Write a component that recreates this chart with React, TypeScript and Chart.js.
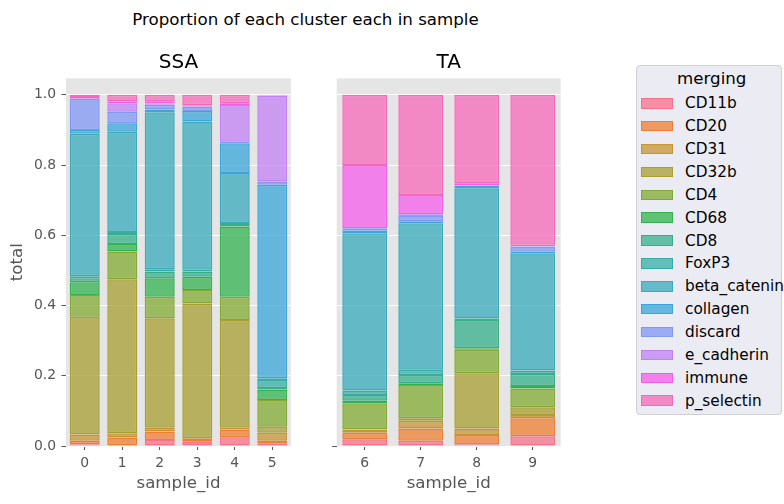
import React, { useEffect, useRef } from 'react';
import { Chart, registerables } from 'chart.js';

Chart.register(...registerables);

// ---- data -------------------------------------------------------------
const clusters = [
  'CD11b', 'CD20', 'CD31', 'CD32b', 'CD4', 'CD68', 'CD8', 'FoxP3',
  'beta_catenin', 'collagen', 'discard', 'e_cadherin', 'immune', 'p_selectin',
];
const ssaSamples = ['0', '1', '2', '3', '4', '5'];
const taSamples = ['6', '7', '8', '9'];
const yTicks = [0, 0.2, 0.4, 0.6, 0.8, 1.0];

// proportion of each cluster per sample (samples 0..9)
const CD11b = [0.005, 0.003, 0.017, 0.012, 0.025, 0.008, 0.019, 0.015, 0.005, 0.028];
const CD20 = [0.010, 0.021, 0.024, 0.008, 0.022, 0.007, 0.019, 0.035, 0.026, 0.051];
const CD31 = [0.018, 0.012, 0.011, 0.002, 0.005, 0.023, 0.008, 0.022, 0.019, 0.009];
const CD32b = [0.335, 0.439, 0.312, 0.384, 0.307, 0.017, 0.002, 0.007, 0.157, 0.022];
const CD4 = [0.062, 0.079, 0.061, 0.038, 0.066, 0.076, 0.074, 0.095, 0.067, 0.054];
const CD68 = [0.036, 0.021, 0.053, 0.038, 0.200, 0.030, 0.007, 0.005, 0.004, 0.007];
const CD8 = [0.012, 0.029, 0.019, 0.015, 0.007, 0.004, 0.016, 0.023, 0.081, 0.034];
const FoxP3 = [0.005, 0.005, 0.006, 0.005, 0.003, 0.023, 0.013, 0.015, 0.004, 0.010];
const betaCatenin = [0.406, 0.286, 0.447, 0.422, 0.142, 0.005, 0.448, 0.417, 0.371, 0.334];
const collagen = [0.011, 0.024, 0.008, 0.030, 0.085, 0.551, 0.007, 0.006, 0.006, 0.004];
const discard = [0.088, 0.033, 0.014, 0.013, 0.004, 0.009, 0.007, 0.015, 0.002, 0.015];
const eCadherin = [0.002, 0.024, 0.003, 0.001, 0.105, 0.244, 0.001, 0.005, 0.001, 0.001];
const immune = [0.004, 0.005, 0.007, 0.002, 0.005, 0.002, 0.179, 0.055, 0.005, 0.004];
const pSelectin = [0.006, 0.019, 0.018, 0.030, 0.024, 0.001, 0.200, 0.285, 0.252, 0.427];

const clusterValues = [
  CD11b, CD20, CD31, CD32b, CD4, CD68, CD8, FoxP3,
  betaCatenin, collagen, discard, eCadherin, immune, pSelectin,
];

// ---- husl palette (same maths as seaborn's husl_palette) ---------------
const M = [
  [3.2406, -1.5372, -0.4986],
  [-0.9689, 1.8758, 0.0415],
  [0.0557, -0.204, 1.057],
];
const REF_U = 0.19784;
const REF_V = 0.46834;
const KAPPA = 903.2963;
const EPS = 0.0088564;

function maxChroma(L: number, H: number): number {
  const hrad = (H / 180) * Math.PI;
  const sinH = Math.sin(hrad);
  const cosH = Math.cos(hrad);
  const sub1 = Math.pow(L + 16, 3) / 1560896;
  const sub2 = sub1 > EPS ? sub1 : L / KAPPA;
  let result = Infinity;
  for (const [m1, m2, m3] of M) {
    const top = (0.99915 * m1 + 1.05122 * m2 + 1.1446 * m3) * sub2;
    const rbottom = 0.8633 * m3 - 0.17266 * m2;
    const lbottom = 0.12949 * m3 - 0.38848 * m1;
    const bottom = (rbottom * sinH + lbottom * cosH) * sub2;
    for (const t of [0, 1]) {
      const C = (L * (top - 1.05122 * t)) / (bottom + 0.17266 * sinH * t);
      if (C > 0 && C < result) result = C;
    }
  }
  return result;
}

function huslToRgb(H: number, S: number, L: number): number[] {
  const C = (maxChroma(L, H) / 100) * S;
  const hrad = (H / 180) * Math.PI;
  const U = C * Math.cos(hrad);
  const V = C * Math.sin(hrad);
  const Y = L > 8 ? Math.pow((L + 16) / 116, 3) : L / KAPPA;
  const varU = U / (13 * L) + REF_U;
  const varV = V / (13 * L) + REF_V;
  const X = -(9 * Y * varU) / ((varU - 4) * varV - varU * varV);
  const Z = (9 * Y - 15 * varV * Y - varV * X) / (3 * varV);
  return M.map(([a, b, c]) => {
    const lin = a * X + b * Y + c * Z;
    const s = lin <= 0.0031308 ? 12.92 * lin : 1.055 * Math.pow(lin, 1 / 2.4) - 0.055;
    return Math.round(Math.min(1, Math.max(0, s)) * 255);
  });
}

function huslPalette(n: number): number[][] {
  const out: number[][] = [];
  for (let i = 0; i < n; i++) {
    const h = ((i / n + 0.01) % 1) * 359;
    out.push(huslToRgb(h, 0.9 * 99, 0.65 * 99));
  }
  return out;
}

const palette = huslPalette(clusters.length);
const rgba = (c: number[], a: number) => `rgba(${c[0]},${c[1]},${c[2]},${a})`;

// ---- styling ----------------------------------------------------------
const FONT = "'DejaVu Sans', sans-serif";
const PANEL_BG = '#e5e5e5';
const AXIS_GRAY = '#555555';
const TICK_SIZE = 13.9;
const LABEL_SIZE = 16.67;
const Y_MAX = 1.047;
const FILL_ALPHA = 0.75;
const EDGE_WIDTH = 1.5;

Chart.defaults.font.family = FONT;

const panelBackground = {
  id: 'panelBackground',
  beforeDraw(chart: any) {
    const { ctx, chartArea: a } = chart;
    ctx.save();
    ctx.fillStyle = PANEL_BG;
    ctx.fillRect(a.left, a.top, a.right - a.left, a.bottom - a.top);
    ctx.restore();
  },
};

function makeDatasets(from: number, to: number) {
  return clusters.map((name, i) => ({
    label: name,
    data: clusterValues[i].slice(from, to),
    backgroundColor: rgba(palette[i], FILL_ALPHA),
    borderColor: rgba(palette[i], 1),
    borderWidth: EDGE_WIDTH,
    borderSkipped: false as const,
    barPercentage: 0.8,
    categoryPercentage: 1,
  }));
}

function panelTitle(text: string) {
  return {
    display: true,
    text,
    fullSize: false,
    color: '#000',
    font: { size: 20, weight: 'normal' as const, family: FONT },
    padding: { top: 10.5, bottom: 3.8 },
  };
}

function xScale() {
  return {
    stacked: true,
    grid: {
      display: true,
      drawOnChartArea: false,
      offset: false,
      tickLength: 4,
      tickColor: AXIS_GRAY,
    },
    border: { display: false },
    ticks: { color: AXIS_GRAY, font: { size: TICK_SIZE }, padding: 4.6 },
    title: {
      display: true,
      text: 'sample_id',
      color: AXIS_GRAY,
      font: { size: LABEL_SIZE },
      padding: { top: 0, bottom: 10 },
    },
    afterFit: (s: any) => {
      s.height = 58;
    },
  };
}

function yScale(showLabels: boolean) {
  return {
    stacked: true,
    min: 0,
    max: Y_MAX,
    afterBuildTicks: (s: any) => {
      s.ticks = yTicks.map((v) => ({ value: v }));
    },
    ticks: {
      display: showLabels,
      color: AXIS_GRAY,
      font: { size: TICK_SIZE },
      padding: 5.5,
      callback: (v: any) => Number(v).toFixed(1),
    },
    grid: {
      color: '#ffffff',
      lineWidth: 1,
      tickLength: 4.5,
      tickColor: showLabels
        ? AXIS_GRAY
        : (ctx: any) => (ctx.tick && ctx.tick.value === 0 ? AXIS_GRAY : 'rgba(0,0,0,0)'),
    },
    border: { display: false },
    title: {
      display: showLabels,
      text: 'total',
      color: AXIS_GRAY,
      font: { size: LABEL_SIZE },
      padding: { top: 4, bottom: 4 },
    },
    afterFit: (s: any) => {
      s.width = showLabels ? 62 : 36.7;
    },
  };
}

const LEFT_W = 300;
const RIGHT_W = 280;
const H = 504;

// legend box geometry
const LEGEND_LEFT = 635.5;
const LEGEND_TOP = 65;
const LEGEND_W = 146.5;
const LEGEND_H = 350;
const LEGEND_ROW = 22.88;
const LEGEND_FIRST_ROW = 103.3;

function Legend() {
  return (
    <div
      style={{
        position: 'absolute',
        left: LEGEND_LEFT,
        top: LEGEND_TOP,
        width: LEGEND_W,
        height: LEGEND_H,
        boxSizing: 'border-box',
        background: '#ebebf3',
        border: '1px solid #cfcfd4',
        borderRadius: 4,
        fontFamily: FONT,
        color: '#000',
      }}
    >
      <div
        style={{
          position: 'absolute',
          left: 0,
          width: '100%',
          textAlign: 'center',
          top: 79.3 - LEGEND_TOP - 11 - 1,
          height: 22,
          lineHeight: '22px',
          fontSize: 16.67,
          paddingLeft: 6,
          boxSizing: 'border-box',
        }}
      >
        merging
      </div>
      {clusters.map((name, i) => {
        const center = LEGEND_FIRST_ROW + LEGEND_ROW * i - LEGEND_TOP - 1;
        return (
          <div
            key={name}
            style={{
              position: 'absolute',
              left: 0,
              top: center - LEGEND_ROW / 2,
              height: LEGEND_ROW,
              display: 'flex',
              alignItems: 'center',
              whiteSpace: 'nowrap',
            }}
          >
            <span
              style={{
                display: 'inline-block',
                marginLeft: 4.5,
                width: 32,
                height: 10.5,
                boxSizing: 'border-box',
                background: rgba(palette[i], FILL_ALPHA),
                border: `${EDGE_WIDTH}px solid ${rgba(palette[i], 1)}`,
              }}
            />
            <span style={{ marginLeft: 12, fontSize: 15.3, lineHeight: '18px' }}>{name}</span>
          </div>
        );
      })}
    </div>
  );
}

export default function App() {
  const leftRef = useRef<HTMLCanvasElement>(null);
  const rightRef = useRef<HTMLCanvasElement>(null);

  useEffect(() => {
    if (!leftRef.current || !rightRef.current) return;

    const ssa = new Chart(leftRef.current, {
      type: 'bar',
      data: { labels: ssaSamples, datasets: makeDatasets(0, 6) },
      options: {
        animation: false,
        responsive: false,
        events: [],
        layout: { padding: { left: 4, right: 9, top: 40, bottom: 0 } },
        plugins: {
          legend: { display: false },
          tooltip: { enabled: false },
          title: panelTitle('SSA'),
        },
        scales: { x: xScale(), y: yScale(true) } as any,
      },
      plugins: [panelBackground],
    });

    const ta = new Chart(rightRef.current, {
      type: 'bar',
      data: { labels: taSamples, datasets: makeDatasets(6, 10) },
      options: {
        animation: false,
        responsive: false,
        events: [],
        layout: { padding: { left: 0, right: 19.3, top: 40, bottom: 0 } },
        plugins: {
          legend: { display: false },
          tooltip: { enabled: false },
          title: panelTitle('TA'),
        },
        scales: { x: xScale(), y: yScale(false) } as any,
      },
      plugins: [panelBackground],
    });

    return () => {
      ssa.destroy();
      ta.destroy();
    };
  }, []);

  return (
    <div style={{ position: 'absolute', left: 0, top: 0, width: 784, height: H, background: '#fff', overflow: 'hidden' }}>
      <div
        style={{
          position: 'absolute',
          left: 0,
          top: 9.7,
          width: 611,
          textAlign: 'center',
          fontFamily: FONT,
          fontSize: 16.67,
          lineHeight: '20px',
          color: '#000',
          whiteSpace: 'nowrap',
        }}
      >
        Proportion of each cluster each in sample
      </div>
      <canvas
        ref={leftRef}
        width={LEFT_W}
        height={H}
        style={{ position: 'absolute', left: 0, top: 0, width: LEFT_W, height: H }}
      />
      <canvas
        ref={rightRef}
        width={RIGHT_W}
        height={H}
        style={{ position: 'absolute', left: LEFT_W, top: 0, width: RIGHT_W, height: H }}
      />
      <Legend />
    </div>
  );
}
